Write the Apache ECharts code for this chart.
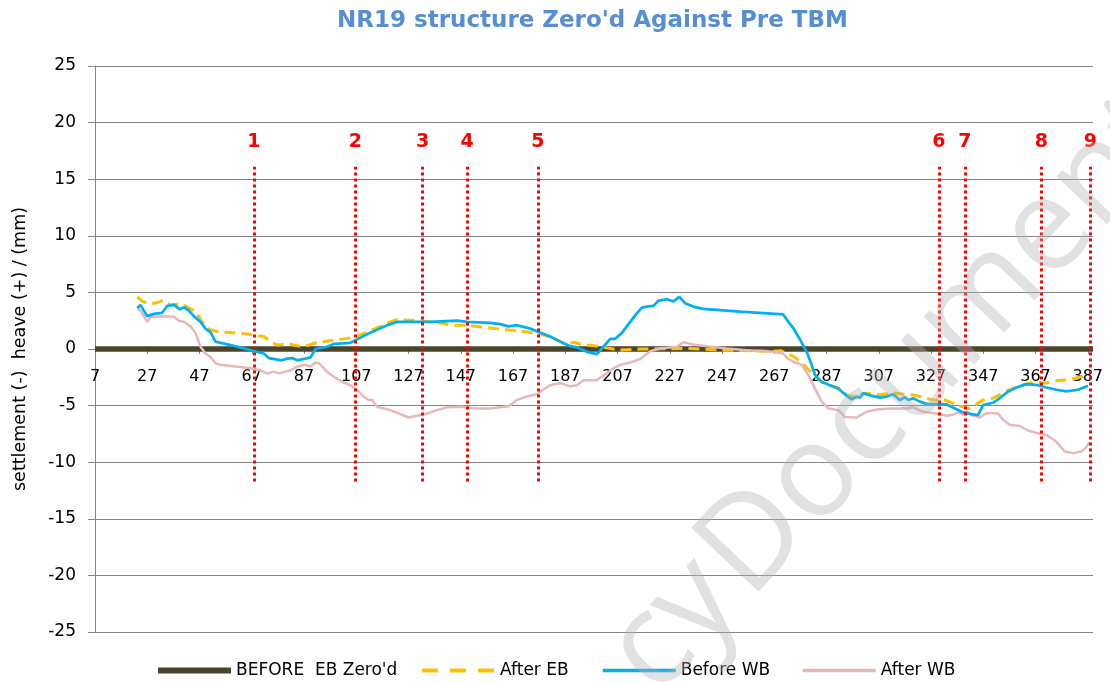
<!DOCTYPE html>
<html>
<head>
<meta charset="utf-8">
<title>NR19 structure Zero'd Against Pre TBM</title>
<script src="https://cdn.jsdelivr.net/npm/echarts@6/dist/echarts.min.js"></script>
<style>
  html, body { margin: 0; padding: 0; background: #fff; }
  #chart { width: 1110px; height: 683px; }
</style>
</head>
<body>
<div id="chart"></div>
<script>
// chainage ticks shown on the x axis
var xTicks = [7, 27, 47, 67, 87, 107, 127, 147, 167, 187, 207, 227, 247, 267, 287, 307, 327, 347, 367, 387];

// baseline (zero'd before EB)
var beforeEB = [[7, 0], [389, 0]];

// After EB (dashed yellow)
var afterEB = [
    [23.2, 4.6], [25.1, 4.2], [28.3, 4.0], [31, 4.1], [33, 4.3], [35.9, 3.9], [39.7, 4.0], [41, 3.9],
    [45.5, 3.3], [48, 2.4], [51.2, 1.7], [53.8, 1.55], [61.4, 1.4], [65.9, 1.3], [71.6, 1.1], [74.2, 0.65],
    [76.7, 0.35], [81.8, 0.45], [83.7, 0.3], [86.9, 0.2], [90.7, 0.5], [94.5, 0.65], [100.9, 0.85], [106, 1.0],
    [111.1, 1.5], [116.2, 2.0], [120, 2.4], [122.6, 2.6], [130.2, 2.5], [135.3, 2.4], [140.4, 2.25], [144.2, 2.1],
    [149.4, 2.1], [157, 1.9], [163.4, 1.7], [169.8, 1.6], [173.6, 1.45], [177.4, 1.35], [182.5, 0.95], [187.6, 0.4],
    [190.2, 0.6], [194, 0.35], [197.8, 0.3], [202.9, 0.1], [208, -0.1], [215.7, 0], [234.9, 0.05], [247.5, -0.1],
    [266.6, -0.2], [269.5, -0.15], [274.3, -0.65], [277.5, -1.2], [280, -1.8], [282.6, -2.4], [285.1, -2.9],
    [288.3, -3.2], [292, -3.5], [294.7, -4.05], [297, -4.2], [302.3, -3.9], [307.4, -4.05], [312.5, -3.85],
    [317.6, -4.05], [320.2, -4.05], [322.7, -4.2], [327.8, -4.5], [332.3, -4.5], [338, -5.05], [341.8, -5.25],
    [346.9, -4.5], [350.7, -4.35], [356, -3.7], [361, -3.25], [366.1, -2.95], [371.2, -3.0], [375, -2.8],
    [380.1, -2.7], [385.2, -2.4], [387.1, -2.25]
];

// Before WB (blue)
var beforeWB = [
    [23.2, 3.6], [24.4, 3.9], [27, 2.9], [29.5, 3.1], [32.7, 3.2], [34.6, 3.8], [37.2, 3.9], [39.5, 3.5],
    [41, 3.7], [42.9, 3.4], [44.8, 2.9], [47.4, 2.4], [49.3, 1.8], [51.2, 1.5], [53.1, 0.65], [58.9, 0.35],
    [67.2, -0.15], [71.6, -0.4], [73.5, -0.8], [78.6, -1.0], [80.5, -0.85], [82.5, -0.8], [84.4, -1.0],
    [87.5, -0.85], [89.5, -0.75], [91.4, 0], [95.8, 0.2], [98.4, 0.45], [104.7, 0.55], [107.3, 0.85],
    [111.1, 1.3], [115, 1.7], [118.8, 2.1], [122.6, 2.4], [127.7, 2.4], [135.3, 2.4], [145.5, 2.5],
    [149.4, 2.4], [158.3, 2.3], [162.1, 2.2], [165.3, 2.0], [168.5, 2.1], [173.6, 1.8], [176.8, 1.5],
    [181.2, 1.1], [185.1, 0.65], [188.9, 0.25], [191.4, 0.15], [195.3, -0.25], [199.1, -0.45], [201.6, 0.2],
    [204.2, 0.9], [206.1, 0.9], [208.6, 1.4], [211.2, 2.2], [213.7, 2.95], [216.3, 3.65], [218.2, 3.75],
    [220.7, 3.8], [222.6, 4.25], [225.9, 4.4], [228.4, 4.2], [230.7, 4.6], [232.8, 4.05], [236, 3.75],
    [239.8, 3.55], [253.9, 3.3], [270.4, 3.05], [272.4, 2.4], [274.3, 1.85], [276.8, 0.85], [279.4, -0.25],
    [281.3, -1.4], [282.6, -2.3], [285.1, -2.9], [288.3, -3.2], [291.5, -3.5], [294, -4.0], [296.6, -4.45],
    [298.5, -4.2], [299.8, -4.3], [301, -3.9], [303.6, -4.1], [307.4, -4.3], [310, -4.2], [312.5, -4.0],
    [315.1, -4.5], [317, -4.25], [318.3, -4.5], [320.2, -4.35], [322.7, -4.65], [325.3, -4.85], [333, -4.9],
    [334.8, -5.1], [338.7, -5.55], [342.5, -5.75], [345, -5.85], [346.9, -4.95], [350.7, -4.75], [353.3, -4.35],
    [356.5, -3.75], [359.7, -3.4], [363.5, -3.1], [367.9, -3.2], [371.2, -3.4], [375, -3.6], [378.8, -3.75],
    [383.3, -3.6], [387.1, -3.25]
];

// After WB (pink)
var afterWB = [
    [23.2, 3.5], [24.4, 3.4], [27, 2.4], [28.3, 2.8], [32.1, 2.9], [37.2, 2.85], [39.1, 2.5], [41, 2.4],
    [43.6, 2.0], [45.5, 1.4], [47.4, 0.2], [49.3, -0.4], [51.2, -0.7], [53.1, -1.25], [55, -1.4], [66.5, -1.7],
    [69.7, -1.85], [72.9, -2.15], [75.4, -2.0], [77.3, -2.15], [79.9, -2.0], [82.2, -1.85], [84.4, -1.55],
    [87.5, -1.4], [89.5, -1.55], [91.4, -1.2], [92.7, -1.25], [95.8, -2.0], [98.4, -2.45], [101.6, -2.9],
    [104.7, -3.2], [107.3, -3.6], [109.8, -4.2], [111.7, -4.5], [113, -4.5], [115, -5.1], [120, -5.4],
    [123.9, -5.75], [127, -6.05], [130.2, -5.9], [134.1, -5.7], [137.9, -5.4], [141.7, -5.15], [146.8, -5.1],
    [153.2, -5.25], [158.3, -5.25], [165.3, -5.05], [168.5, -4.5], [172.3, -4.2], [176.1, -4.0], [178.5, -3.6],
    [181.2, -3.2], [185.1, -3.0], [188.9, -3.3], [191.4, -3.2], [194, -2.75], [199.1, -2.75], [202.9, -2.15],
    [205.5, -1.7], [208, -1.4], [211.8, -1.2], [215.6, -0.9], [219.5, -0.2], [223.3, 0.05], [229.7, 0.2],
    [232.2, 0.6], [236, 0.4], [241.2, 0.25], [248.8, 0.05], [256.5, -0.1], [266.6, -0.25], [270.4, -0.4],
    [272.4, -0.9], [274.6, -1.15], [277.5, -1.4], [280, -2.3], [282.6, -3.5], [285.1, -4.65], [287.7, -5.25],
    [291.5, -5.4], [294, -6.0], [298.5, -6.05], [302.3, -5.55], [306.2, -5.35], [311.3, -5.25], [317.6, -5.25],
    [320.2, -5.15], [324, -5.55], [329.1, -5.7], [333, -5.9], [335.5, -5.8], [337.4, -5.6], [339.3, -5.8],
    [340.6, -5.5], [342.5, -5.85], [345.7, -6.05], [348.3, -5.65], [352.7, -5.7], [354.6, -6.25], [357.1, -6.7],
    [361, -6.8], [364.1, -7.2], [367.9, -7.45], [371.2, -7.6], [375, -8.2], [378.2, -9.05], [381.4, -9.2],
    [384.6, -9.05], [386.5, -8.65], [387.7, -8.2]
];

// numbered red section markers
var sectionX = [67.8, 106.7, 132.4, 149.4, 176.5, 330, 340, 369.2, 388];
var sectionLabels = ['1', '2', '3', '4', '5', '6', '7', '8', '9'];
var sectionTop = 16.1;
var sectionBottom = -11.7;

var font = 'DejaVu Sans';
var gridColor = '#868686';

var myChart = echarts.init(document.getElementById('chart'), null, { renderer: 'canvas' });

var sectionLines = sectionX.map(function (x, i) {
    return [{ coord: [x, sectionBottom], name: sectionLabels[i] }, { coord: [x, sectionTop] }];
});

// one legend per item so each can sit where Excel put it
function legendFor(name, left, lineWidth, dash) {
    return {
        data: [name],
        left: left,
        top: 662,
        padding: 0,
        itemWidth: 73,
        itemHeight: 14,
        itemGap: 6,
        selectedMode: false,
        itemStyle: { opacity: 0 },
        lineStyle: dash ? { width: lineWidth, type: dash } : { width: lineWidth },
        textStyle: { fontFamily: font, fontSize: 17, color: '#000' }
    };
}

// watermark, rotated along the diagonal (only its visible part)
var wmAngle = 46.5 * Math.PI / 180;
var wmStyle = { font: 'normal 130px "Open Sans"', fill: 'rgba(175,175,175,0.38)', textVerticalAlign: 'bottom' };

var option = {
    animation: false,
    backgroundColor: '#fff',
    title: {
        text: "NR19 structure Zero'd Against Pre TBM",
        left: 332,
        top: 5,
        textStyle: { fontFamily: font, fontSize: 23, fontWeight: 'bold', color: '#558ED5' }
    },
    legend: [
        legendFor("BEFORE  EB Zero'd", 155, 6),
        legendFor('After EB', 420, 4, [16, 12]),
        legendFor('Before WB', 601, 3.5),
        legendFor('After WB', 801, 3.5)
    ],
    grid: {
        left: 95,
        right: 17,
        top: 66,
        bottom: 51,
        outerBoundsMode: 'none'
    },
    xAxis: {
        type: 'value',
        min: 7,
        max: 389,
        position: 'bottom',
        // sit on the zero line (half the plot height above the bottom)
        offset: -283,
        axisLine: { onZero: false, lineStyle: { color: gridColor, width: 1 } },
        axisTick: { show: true, length: 5, customValues: xTicks, lineStyle: { color: gridColor } },
        axisLabel: {
            customValues: xTicks,
            fontFamily: font,
            fontSize: 16,
            color: '#000',
            margin: 20
        },
        splitLine: { show: false }
    },
    yAxis: {
        type: 'value',
        min: -25,
        max: 25,
        interval: 5,
        name: 'settlement (-)  heave (+) / (mm)',
        nameLocation: 'middle',
        nameGap: 66,
        nameTextStyle: { fontFamily: font, fontSize: 17.5, color: '#000' },
        axisLine: { show: true, onZero: false, lineStyle: { color: gridColor, width: 1 } },
        axisTick: { show: true, length: 7, lineStyle: { color: gridColor } },
        axisLabel: { fontFamily: font, fontSize: 17, color: '#000', margin: 19 },
        splitLine: { show: true, lineStyle: { color: gridColor, width: 1 } }
    },
    series: [{
        name: "BEFORE  EB Zero'd",
        type: 'line',
        data: beforeEB,
        symbol: 'none',
        z: 2,
        lineStyle: { color: '#4A452A', width: 5.5 },
        itemStyle: { color: '#4A452A' }
    }, {
        name: 'After EB',
        type: 'line',
        data: afterEB,
        symbol: 'none',
        z: 3,
        lineStyle: { color: '#FFC000', width: 3, type: [11, 6] },
        itemStyle: { color: '#FFC000' }
    }, {
        name: 'Before WB',
        type: 'line',
        data: beforeWB,
        symbol: 'none',
        z: 4,
        lineStyle: { color: '#00B0F0', width: 2.75 },
        itemStyle: { color: '#00B0F0' }
    }, {
        name: 'After WB',
        type: 'line',
        data: afterWB,
        symbol: 'none',
        z: 3,
        lineStyle: { color: '#E6B9B8', width: 2.5 },
        itemStyle: { color: '#E6B9B8' }
    }, {
        name: 'sections',
        type: 'line',
        data: [],
        z: 5,
        silent: true,
        markLine: {
            silent: true,
            symbol: ['none', 'none'],
            lineStyle: { color: '#FF0000', width: 3, type: [3, 3] },
            label: {
                show: true,
                position: 'end',
                distance: 15,
                color: '#FF0000',
                fontFamily: font,
                fontWeight: 'bold',
                fontSize: 19,
                formatter: function (p) { return sectionLabels[p.dataIndex]; }
            },
            data: sectionLines
        }
    }],
    graphic: [{
        type: 'text',
        x: 770,
        y: 620,
        rotation: wmAngle,
        z: 100,
        silent: true,
        style: echarts.util.extend({ text: 'Document', textAlign: 'left' }, wmStyle)
    }, {
        type: 'text',
        x: 765,
        y: 625,
        rotation: wmAngle,
        z: 100,
        silent: true,
        style: echarts.util.extend({ text: 'cy', textAlign: 'right' }, wmStyle)
    }]
};

myChart.setOption(option);
</script>
</body>
</html>
